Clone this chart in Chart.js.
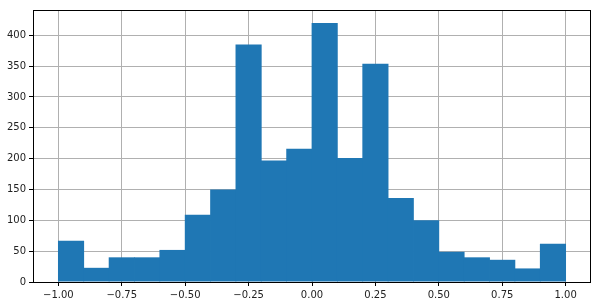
<!DOCTYPE html>
<html>
<head>
<meta charset="utf-8">
<script src="https://cdn.jsdelivr.net/npm/chart.js@4/dist/chart.umd.min.js"></script>
<style>
  html, body { margin: 0; padding: 0; background: #fff; }
</style>
</head>
<body>
<canvas id="chart" width="601" height="306"></canvas>
<script>
// histogram bins (centers of 0.1-wide bins from -1 to 1) and their counts
const binCenters = [-0.95, -0.85, -0.75, -0.65, -0.55, -0.45, -0.35, -0.25, -0.15, -0.05,
                    0.05, 0.15, 0.25, 0.35, 0.45, 0.55, 0.65, 0.75, 0.85, 0.95];
const counts = [67, 23, 40, 40, 52, 109, 150, 385, 197, 216,
                420, 201, 354, 136, 100, 49, 40, 36, 22, 62];

const xTicks = [-1, -0.75, -0.5, -0.25, 0, 0.25, 0.5, 0.75, 1];
const xTickLabels = ['\u22121.00', '\u22120.75', '\u22120.50', '\u22120.25', '0.00', '0.25', '0.50', '0.75', '1.00'];
const yTicks = [0, 50, 100, 150, 200, 250, 300, 350, 400];

const gridColor = '#b0b0b0';
const textColor = '#222222';

// matplotlib-style box around the axes
const frame = {
    id: 'frame',
    afterDraw(chart) {
        const a = chart.chartArea;
        const ctx = chart.ctx;
        ctx.save();
        ctx.strokeStyle = '#000';
        ctx.lineWidth = 1;
        ctx.strokeRect(Math.round(a.left) + 0.5, Math.round(a.top) + 0.5,
                       Math.round(a.right - a.left) - 1, Math.round(a.bottom - a.top));
        ctx.restore();
    }
};

new Chart(document.getElementById('chart').getContext('2d'), {
    type: 'bar',
    data: {
        datasets: [{
            data: binCenters.map((x, i) => ({ x: x, y: counts[i] })),
            backgroundColor: '#1f77b4',
            borderWidth: 0,
            // tiny overlap so neighbouring bins don't show hairline seams
            barPercentage: 1.03,
            categoryPercentage: 1
        }]
    },
    options: {
        responsive: false,
        animation: false,
        layout: { padding: { top: 10, right: 10, left: 0, bottom: 0 } },
        plugins: { legend: { display: false }, tooltip: { enabled: false } },
        scales: {
            x: {
                type: 'linear',
                min: -1.1,
                max: 1.1,
                offset: false,
                z: 1,
                afterBuildTicks: s => { s.ticks = xTicks.map(v => ({ value: v })); },
                afterFit: s => { s.height = 24; },
                border: { display: false },
                grid: { offset: false, color: gridColor, tickColor: '#000', tickLength: 4, lineWidth: 1 },
                ticks: {
                    autoSkip: false,
                    maxRotation: 0,
                    padding: 3,
                    color: textColor,
                    font: { family: 'DejaVu Sans', size: 10 },
                    callback: v => xTickLabels[xTicks.indexOf(v)]
                }
            },
            y: {
                min: 0,
                max: 441,
                z: 1,
                afterBuildTicks: s => { s.ticks = yTicks.map(v => ({ value: v })); },
                afterFit: s => { s.width = 33; },
                border: { display: false },
                grid: { color: gridColor, tickColor: '#000', tickLength: 4, lineWidth: 1 },
                ticks: {
                    padding: 3,
                    color: textColor,
                    font: { family: 'DejaVu Sans', size: 10 },
                    callback: v => String(v)
                }
            }
        }
    },
    plugins: [frame]
});
</script>
</body>
</html>
